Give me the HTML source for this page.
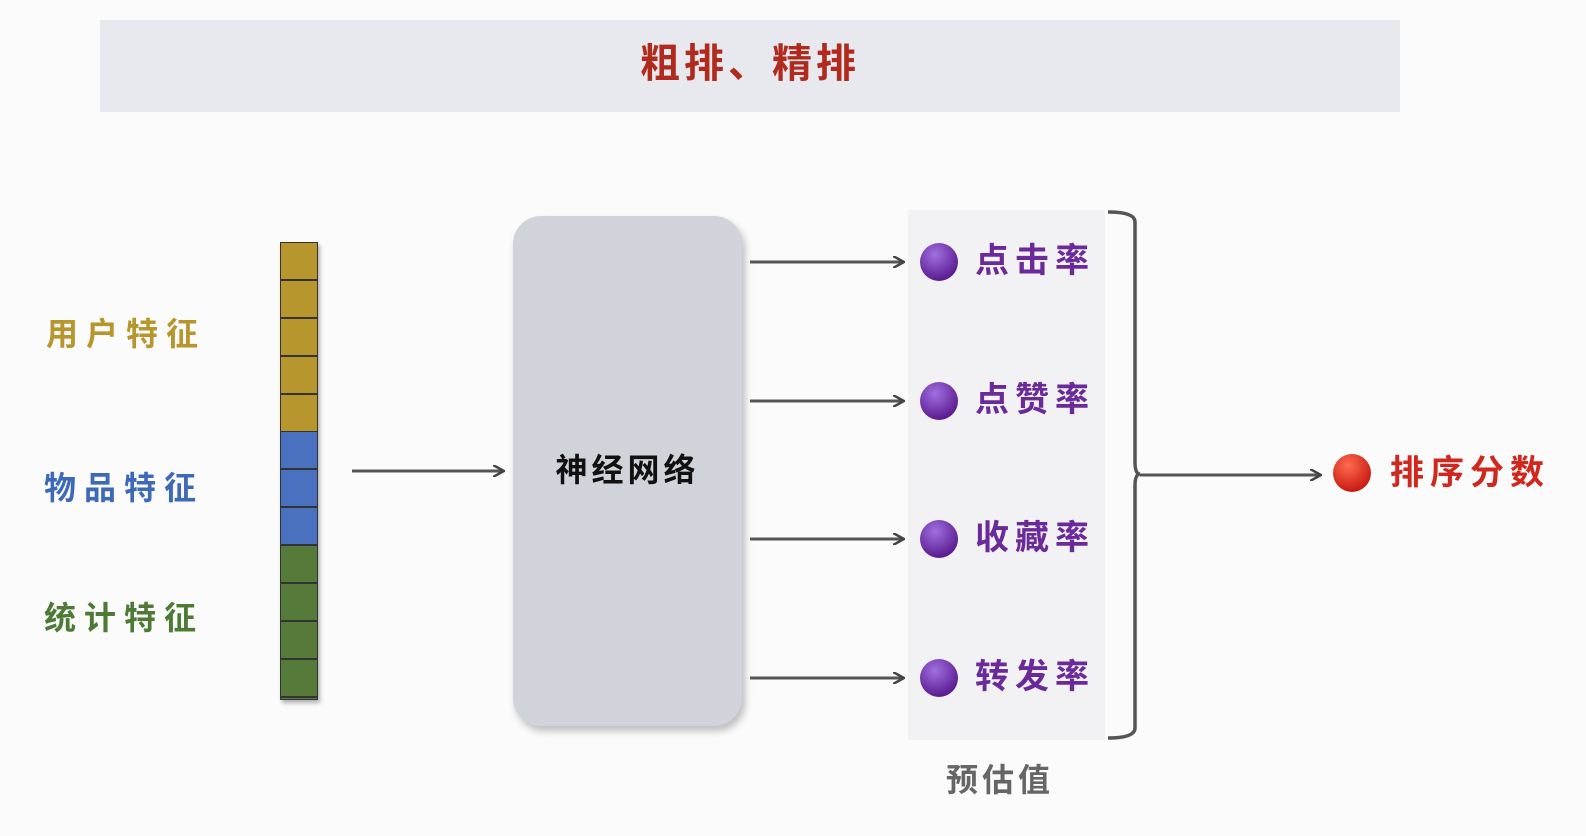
<!DOCTYPE html>
<html><head><meta charset="utf-8"><style>
body{margin:0;width:1586px;height:836px;background:#fbfbfb;position:relative;overflow:hidden;font-family:"Liberation Sans","Noto Sans CJK SC",sans-serif}
.a{position:absolute}
.t{position:absolute;font-weight:bold;white-space:nowrap;line-height:1}
</style></head><body>
<div class="a" style="left:100px;top:20px;width:1300px;height:92px;background:#e8e9ee"></div>
<div class="t" style="left:0;width:1500px;top:44px;text-align:center;font-size:40px;color:#b02a1e;letter-spacing:4px">粗排、精排</div>

<div class="t" style="left:46px;top:318px;font-size:32px;color:#b8962e;letter-spacing:8px">用户特征</div>
<div class="t" style="left:44px;top:472px;font-size:32px;color:#3d6ab8;letter-spacing:8px">物品特征</div>
<div class="t" style="left:44px;top:602px;font-size:32px;color:#4d7a35;letter-spacing:8px">统计特征</div>

<div class="a" style="left:280px;top:242px;width:38px;box-shadow:2px 3px 4px rgba(0,0,0,.3)">
<div style="height:190px;background:repeating-linear-gradient(#b8962e 0 36px,#333 36px 38px);border:1px solid #333;border-bottom:none;box-sizing:border-box"></div>
<div style="height:114px;background:repeating-linear-gradient(#4a70c0 0 36px,#333 36px 38px);border:1px solid #333;border-top:none;border-bottom:none;box-sizing:border-box"></div>
<div style="height:154px;background:repeating-linear-gradient(#557a3a 0 36px,#333 36px 38px);border:1px solid #333;border-top:none;box-sizing:border-box"></div>
</div>

<div class="a" style="left:513px;top:216px;width:229px;height:510px;border-radius:28px;background:#d0d3da;box-shadow:3px 5px 8px rgba(0,0,0,.25)"></div>
<div class="t" style="left:513px;width:229px;text-align:center;top:454px;font-size:32px;color:#111;letter-spacing:4px">神经网络</div>

<div class="a" style="left:908px;top:210px;width:197px;height:530px;background:#f2f1f4"></div>

<svg class="a" style="left:0;top:0" width="1586" height="836">
<defs>
<marker id="ar" markerWidth="12" markerHeight="12" refX="10" refY="6" orient="auto" markerUnits="userSpaceOnUse"><path d="M0,0 L11,6 L0,12" fill="none" stroke="#444" stroke-width="2.5"/></marker>
<radialGradient id="pg" cx="40%" cy="30%" r="70%"><stop offset="0" stop-color="#a070e0"/><stop offset="1" stop-color="#5a1a90"/></radialGradient>
<radialGradient id="rg" cx="40%" cy="30%" r="70%"><stop offset="0" stop-color="#ff6a50"/><stop offset="1" stop-color="#c81a10"/></radialGradient>
</defs>
<g stroke="#555" stroke-width="3" fill="none" marker-end="url(#ar)">
<line x1="352" y1="471" x2="503" y2="471"/>
<line x1="750" y1="262" x2="903" y2="262"/>
<line x1="750" y1="401" x2="903" y2="401"/>
<line x1="750" y1="539" x2="903" y2="539"/>
<line x1="750" y1="678" x2="903" y2="678"/>
<line x1="1140" y1="475" x2="1320" y2="475"/>
</g>
<path d="M1108,212 Q1135,212 1135,222 L1135,462 Q1135,474 1140,474 Q1135,474 1135,486 L1135,728 Q1135,738 1108,738" stroke="#555" stroke-width="3.5" fill="none"/>
<g fill="url(#pg)">
<circle cx="939" cy="262" r="19"/><circle cx="939" cy="401" r="19"/><circle cx="939" cy="539" r="19"/><circle cx="939" cy="678" r="19"/>
</g>
<circle cx="1352" cy="473" r="19" fill="url(#rg)"/>
</svg>

<div class="t" style="left:975px;top:244px;font-size:34px;color:#6a2a9a;letter-spacing:6px">点击率</div>
<div class="t" style="left:975px;top:383px;font-size:34px;color:#6a2a9a;letter-spacing:6px">点赞率</div>
<div class="t" style="left:975px;top:521px;font-size:34px;color:#6a2a9a;letter-spacing:6px">收藏率</div>
<div class="t" style="left:975px;top:660px;font-size:34px;color:#6a2a9a;letter-spacing:6px">转发率</div>
<div class="t" style="left:1390px;top:456px;font-size:34px;color:#d0281e;letter-spacing:6px">排序分数</div>
<div class="t" style="left:946px;top:764px;font-size:32px;color:#666;letter-spacing:4px">预估值</div>
</body></html>
